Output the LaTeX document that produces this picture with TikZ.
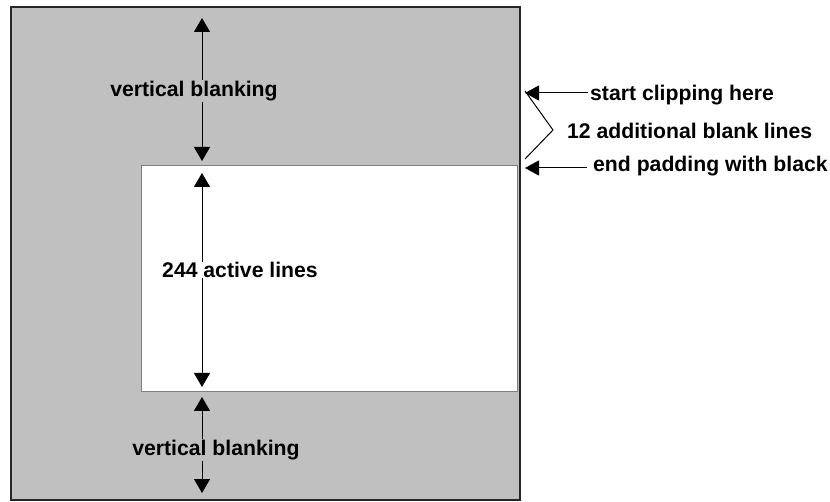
\documentclass[tikz,border=0pt]{standalone}
\usepackage{fontspec}
\setmainfont{Liberation Sans}
\usetikzlibrary{arrows.meta}
\definecolor{blankgray}{HTML}{C0C0C0}
\definecolor{edgegray}{HTML}{808080}
\begin{document}
\begin{tikzpicture}[x=1pt,y=-1pt,
  lbl/.style={font=\fontsize{21.2}{25}\selectfont\bfseries, inner sep=1pt},
  dimarrow/.style={line width=1pt, {Triangle[width=16pt,length=14pt]}-{Triangle[width=16pt,length=14pt]}},
  ptr/.style={line width=1pt, -{Triangle[width=15pt,length=14pt]}}]
\useasboundingbox (0,0) rectangle (830,502);
% frame: blanking region and active picture area
\draw[fill=blankgray, line width=1.5pt, draw=black!85] (11,7) rectangle (520,500);
\draw[fill=white, draw=edgegray, line width=1pt] (141,166) rectangle (517,392);
% vertical extents
\coordinate (t1) at (202,18);
\coordinate (t2) at (202,161);
\coordinate (a1) at (202,173);
\coordinate (a2) at (202,387);
\coordinate (b1) at (202,397);
\coordinate (b2) at (202,493);
\draw[dimarrow] (t1) -- (t2);
\draw[dimarrow] (a1) -- (a2);
\draw[dimarrow] (b1) -- (b2);
\node[lbl, fill=blankgray] (vb1) at (194,91) {vertical blanking};
\node[lbl, fill=white, inner sep=0pt] (act) at (240,270) {244 active lines};
\node[lbl, fill=blankgray] (vb2) at (216,450) {vertical blanking};
% clipping markers on the right
\coordinate (c1) at (525,93);
\coordinate (c1s) at (588,93);
\coordinate (c2) at (525,168);
\coordinate (c2s) at (587,168);
\coordinate (bt) at (525,91);
\coordinate (bv) at (553,130);
\coordinate (bb) at (525,159);
\draw[ptr] (c1s) -- (c1);
\draw[ptr] (c2s) -- (c2);
\draw[line width=1pt] (bt) -- (bv) -- (bb);
\node[lbl, anchor=west] (clip) at (589,95) {start clipping here};
\node[lbl, anchor=west] (extra) at (566,131) {12 additional blank lines};
\node[lbl, anchor=west] (pad) at (592,166) {end padding with black};
\end{tikzpicture}
\end{document}
